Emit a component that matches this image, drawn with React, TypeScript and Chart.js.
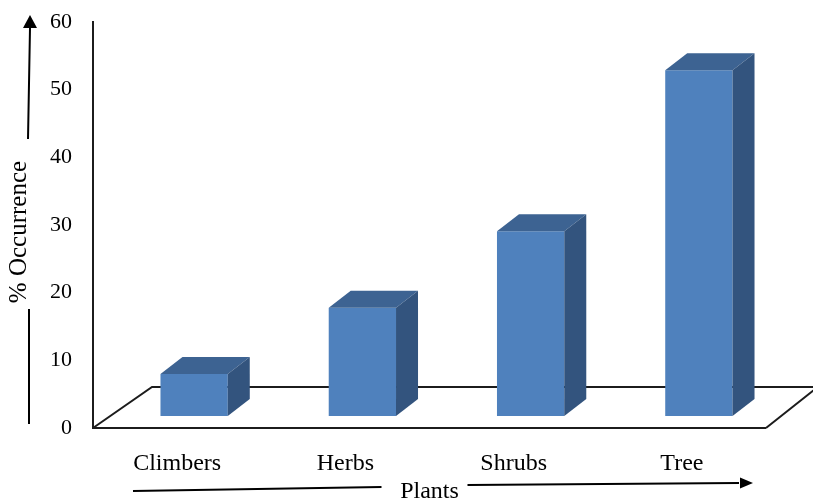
import React, { useEffect, useRef } from "react";
import { Chart, registerables } from "chart.js";

Chart.register(...registerables);

const categories = ["Climbers", "Herbs", "Shrubs", "Tree"];
const occurrence = [6.2, 16.0, 27.3, 51.1];
const yMin = 0;
const yMax = 60;
const yStep = 10;
const xTitle = "Plants";
const yTitle = "% Occurrence";

const FONT = "'Liberation Serif', 'Times New Roman', serif";
const FRONT = "#4F81BD";
const TOP = "#3D6392";
const SIDE = "#33547E";
const LINE = "#1c1c1c";

// bars sit slightly back from the front of the floor
const BAR_SHIFT_X = 17;
const BAR_SHIFT_Y = -12;
// depth of each bar
const DEPTH_X = 22;
const DEPTH_Y = 17;

function arrowHead(ctx: CanvasRenderingContext2D, tipX: number, tipY: number, dir: "up" | "right") {
  ctx.beginPath();
  if (dir === "up") {
    ctx.moveTo(tipX, tipY);
    ctx.lineTo(tipX - 7, tipY + 13);
    ctx.lineTo(tipX + 7, tipY + 13);
  } else {
    ctx.moveTo(tipX, tipY);
    ctx.lineTo(tipX - 13, tipY - 5.5);
    ctx.lineTo(tipX - 13, tipY + 5.5);
  }
  ctx.closePath();
  ctx.fill();
}

const bar3d = {
  id: "bar3d",
  beforeDatasetsDraw(chart: any) {
    const { ctx, chartArea } = chart;
    const { left, right, bottom } = chartArea;
    const W = chart.width;
    ctx.save();
    ctx.strokeStyle = LINE;
    ctx.lineWidth = 2;
    ctx.beginPath();
    // front edge of floor
    ctx.moveTo(left, bottom);
    ctx.lineTo(right, bottom);
    // left edge
    ctx.moveTo(left, bottom);
    ctx.lineTo(left + 59, bottom - 41);
    // back edge
    ctx.lineTo(W, bottom - 41);
    // right edge
    ctx.moveTo(right, bottom);
    ctx.lineTo(right + 53, bottom - 42);
    ctx.stroke();
    ctx.restore();

    ctx.save();
    ctx.translate(BAR_SHIFT_X, BAR_SHIFT_Y);
  },
  afterDatasetsDraw(chart: any) {
    const { ctx } = chart;
    const meta = chart.getDatasetMeta(0);
    meta.data.forEach((el: any) => {
      const { x, y, base, width } = el.getProps(["x", "y", "base", "width"], true);
      const l = x - width / 2;
      const r = x + width / 2;
      // top face
      ctx.fillStyle = TOP;
      ctx.beginPath();
      ctx.moveTo(l, y);
      ctx.lineTo(l + DEPTH_X, y - DEPTH_Y);
      ctx.lineTo(r + DEPTH_X, y - DEPTH_Y);
      ctx.lineTo(r, y);
      ctx.closePath();
      ctx.fill();
      // side face
      ctx.fillStyle = SIDE;
      ctx.beginPath();
      ctx.moveTo(r, y);
      ctx.lineTo(r + DEPTH_X, y - DEPTH_Y);
      ctx.lineTo(r + DEPTH_X, base - DEPTH_Y);
      ctx.lineTo(r, base);
      ctx.closePath();
      ctx.fill();
    });
    ctx.restore();
  },
  afterDraw(chart: any) {
    const { ctx, chartArea } = chart;
    const { left, right, top, bottom } = chartArea;
    ctx.save();
    ctx.fillStyle = "#000";
    ctx.strokeStyle = "#000";
    ctx.lineWidth = 2;

    // y title with arrow
    const tx = 19;
    const ty = 232;
    ctx.save();
    ctx.translate(tx, ty);
    ctx.rotate(-Math.PI / 2);
    ctx.font = `25px ${FONT}`;
    ctx.textAlign = "center";
    ctx.textBaseline = "middle";
    ctx.fillText(yTitle, 0, 0);
    ctx.restore();
    ctx.beginPath();
    ctx.moveTo(29, bottom - 4);
    ctx.lineTo(29, ty + 77);
    ctx.moveTo(28, ty - 93);
    ctx.lineTo(30, top + 6);
    ctx.stroke();
    arrowHead(ctx, 30, top - 7, "up");

    // x title with arrow
    const cx = (left + right) / 2;
    const cy = bottom + 64;
    ctx.font = `24px ${FONT}`;
    ctx.textAlign = "center";
    ctx.textBaseline = "middle";
    ctx.fillText(xTitle, cx, cy);
    ctx.beginPath();
    ctx.moveTo(left + 40, cy - 1);
    ctx.lineTo(cx - 48, cy - 5);
    ctx.moveTo(cx + 38, cy - 7);
    ctx.lineTo(right - 27, cy - 9);
    ctx.stroke();
    arrowHead(ctx, right - 13, cy - 9, "right");
    ctx.restore();
  },
};

export default function App() {
  const ref = useRef<HTMLCanvasElement | null>(null);
  useEffect(() => {
    document.body.style.margin = "0";
    const canvas = ref.current;
    if (!canvas) return;
    const chart = new Chart(canvas, {
      type: "bar",
      data: {
        labels: categories,
        datasets: [
          {
            label: yTitle,
            data: occurrence,
            backgroundColor: FRONT,
            borderWidth: 0,
            barPercentage: 1,
            categoryPercentage: 0.4,
            clip: false as any,
          },
        ],
      },
      options: {
        animation: false,
        responsive: false,
        devicePixelRatio: 1,
        layout: { padding: { left: 0, right: 47, top: 22, bottom: 0 } },
        plugins: {
          legend: { display: false },
          tooltip: { enabled: false },
          title: { display: false },
        },
        scales: {
          x: {
            type: "category",
            grid: { display: false, drawTicks: false },
            border: { display: false },
            ticks: {
              color: "#000",
              font: { family: FONT, size: 24 },
              padding: 21,
              maxRotation: 0,
              autoSkip: false,
            },
            afterFit(scale: any) {
              scale.height = 75;
              scale.paddingLeft = 0;
              scale.paddingRight = 0;
            },
          },
          y: {
            min: yMin,
            max: yMax,
            grid: { display: false, drawTicks: false },
            border: { display: true, color: LINE, width: 2 },
            ticks: {
              stepSize: yStep,
              color: "#000",
              font: { family: FONT, size: 22 },
              padding: 21,
            },
            afterFit(scale: any) {
              scale.width = 93;
              scale.paddingTop = 0;
              scale.paddingBottom = 0;
            },
          },
        },
      },
      plugins: [bar3d],
    });
    return () => chart.destroy();
  }, []);
  return (
    <div style={{ width: 813, height: 503, background: "#fff" }}>
      <canvas ref={ref} width={813} height={503} style={{ display: "block" }} />
    </div>
  );
}
